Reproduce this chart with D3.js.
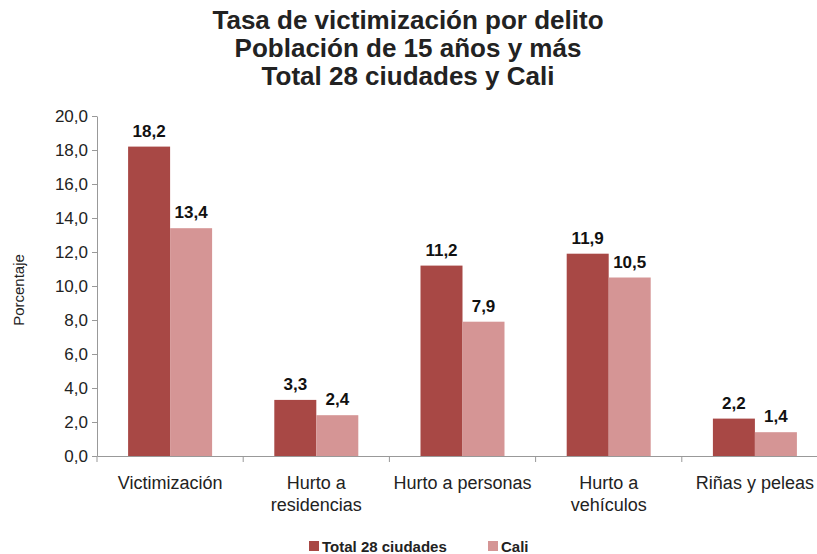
<!DOCTYPE html>
<html>
<head>
<meta charset="utf-8">
<script src="https://cdn.jsdelivr.net/npm/d3@7"></script>
<style>
  body { margin: 0; background: #fff; }
  svg { font-family: "Liberation Sans", Arial, sans-serif; }
</style>
</head>
<body>
<svg id="chart" width="817" height="554"></svg>
<script>
const categories = ["Victimización", "Hurto a\nresidencias", "Hurto a personas", "Hurto a\nvehículos", "Riñas y peleas"];
const seriesNames = ["Total 28 ciudades", "Cali"];
const total28 = [18.2, 3.3, 11.2, 11.9, 2.2];
const cali = [13.4, 2.4, 7.9, 10.5, 1.4];
const yTicks = [0, 2, 4, 6, 8, 10, 12, 14, 16, 18, 20];
const colors = ["#A84845", "#D59595"];

const margin = {top: 116, left: 97};
const width = 731, height = 340;

const svg = d3.select("#chart");
const fmt = d => d.toFixed(1).replace(".", ",");

// title
const titleLines = ["Tasa de victimización por delito", "Población de 15 años y más", "Total 28 ciudades y Cali"];
svg.append("text")
  .attr("x", 408).attr("y", 29)
  .attr("text-anchor", "middle")
  .style("font-size", "26px").style("font-weight", "bold").style("fill", "#222")
  .selectAll("tspan").data(titleLines).join("tspan")
  .attr("x", 408).attr("dy", (d, i) => i ? 28 : 0)
  .text(d => d);

const g = svg.append("g").attr("transform", `translate(${margin.left},${margin.top})`);

const x = d3.scaleBand().domain(categories).range([0, width]);
const y = d3.scaleLinear().domain([0, 20]).range([height, 0]);
const barW = 42;

const data = categories.map((c, i) => ({cat: c, vals: [total28[i], cali[i]]}));

const groups = g.selectAll(".grp").data(data).join("g")
  .attr("transform", d => `translate(${x(d.cat) + x.bandwidth() / 2 - barW},0)`);

groups.selectAll("rect").data(d => d.vals).join("rect")
  .attr("x", (d, i) => i * barW)
  .attr("y", d => y(d))
  .attr("width", barW)
  .attr("height", d => height - y(d))
  .attr("fill", (d, i) => colors[i]);

groups.selectAll(".lbl").data(d => d.vals).join("text")
  .attr("class", "lbl")
  .attr("x", (d, i) => i * barW + barW / 2)
  .attr("y", d => y(d) - 10)
  .attr("text-anchor", "middle")
  .style("font-size", "17px").style("font-weight", "bold").style("fill", "#111")
  .text(fmt);

// y axis
const yAxis = g.append("g")
  .call(d3.axisLeft(y).tickValues(yTicks).tickFormat(fmt).tickSize(5).tickSizeOuter(0));
yAxis.select(".domain").attr("stroke", "#999");
yAxis.selectAll(".tick line").attr("stroke", "#999");
yAxis.selectAll(".tick text").style("font-size", "17px").style("fill", "#222").attr("x", -9);

// x axis
const xAxis = g.append("g").attr("transform", `translate(0,${height})`)
  .call(d3.axisBottom(x).tickSize(0).tickFormat(""));
xAxis.select(".domain").attr("stroke", "#999");
xAxis.selectAll(".sep").data(d3.range(categories.length + 1)).join("line")
  .attr("x1", i => i * x.step()).attr("x2", i => i * x.step())
  .attr("y1", 0).attr("y2", 6).attr("stroke", "#999");

xAxis.selectAll(".cat").data(categories).join("text")
  .attr("text-anchor", "middle")
  .style("font-size", "18px").style("fill", "#222")
  .selectAll("tspan").data(d => d.split("\n").map(t => ({t, c: d}))).join("tspan")
  .attr("x", d => x(d.c) + x.bandwidth() / 2)
  .attr("y", (d, i) => 33 + i * 22)
  .text(d => d.t);

// y label
svg.append("text")
  .attr("transform", "translate(24,290) rotate(-90)")
  .attr("text-anchor", "middle")
  .style("font-size", "15px").style("fill", "#222")
  .text("Porcentaje");

// legend
const leg = svg.append("g").attr("transform", "translate(309,541)");
const legX = [0, 179];
seriesNames.forEach((s, i) => {
  leg.append("rect").attr("x", legX[i]).attr("y", 0).attr("width", 10).attr("height", 10).attr("fill", colors[i]);
  leg.append("text").attr("x", legX[i] + 13).attr("y", 11)
    .style("font-size", "15px").style("font-weight", "bold").style("fill", "#222")
    .text(s);
});
</script>
</body>
</html>
